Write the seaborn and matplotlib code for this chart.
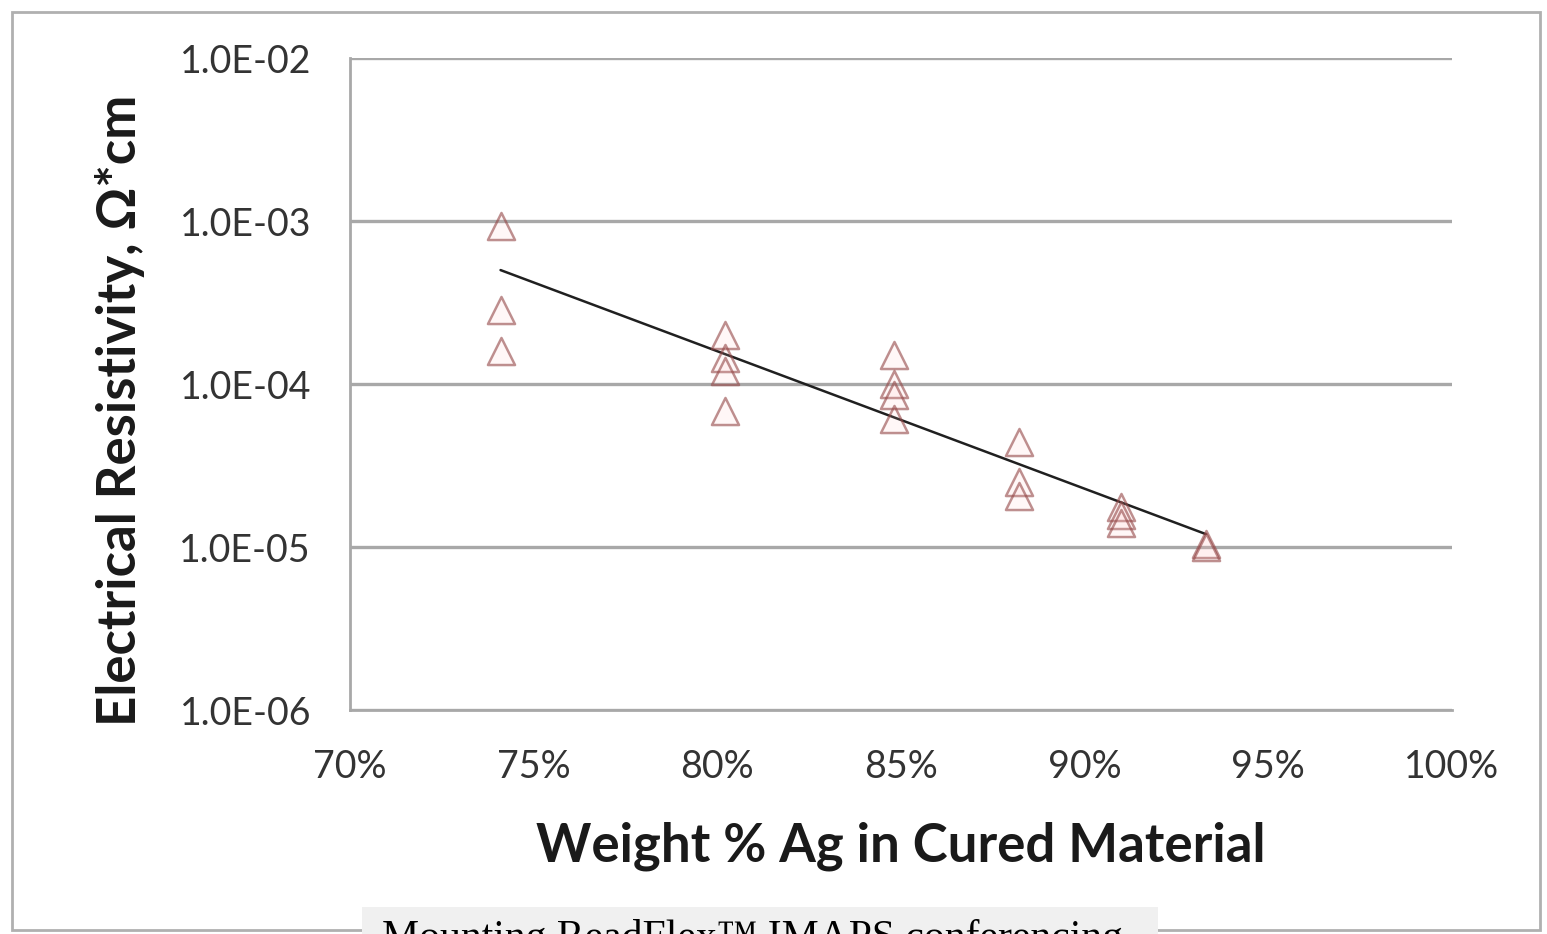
import numpy as np
import pandas as pd
import matplotlib.pyplot as plt
import matplotlib.ticker as mticker
from matplotlib.patches import Rectangle
import seaborn as sns

# Data (weight % Ag, resistivity in ohm*cm)
ag_pct = [74.1, 74.1, 74.1,
          80.2, 80.2, 80.2, 80.2,
          84.8, 84.8, 84.8, 84.8,
          88.2, 88.2, 88.2,
          91.0, 91.0, 91.0,
          93.3, 93.3]
resistivity = [9.3e-4, 2.85e-4, 1.6e-4,
               2.0e-4, 1.45e-4, 1.2e-4, 6.8e-5,
               1.5e-4, 1.0e-4, 8.6e-5, 6.1e-5,
               4.4e-5, 2.5e-5, 2.05e-5,
               1.75e-5, 1.57e-5, 1.4e-5,
               1.05e-5, 1.0e-5]

# exponential trendline as drawn in the chart
trend_ag = [74.1, 93.3]
trend_rho = [5.0e-4, 1.2e-5]

x_ticks = [70, 75, 80, 85, 90, 95, 100]
y_ticks = [1e-6, 1e-5, 1e-4, 1e-3, 1e-2]
y_labels = ["1.0E-06", "1.0E-05", "1.0E-04", "1.0E-03", "1.0E-02"]

df = pd.DataFrame({"ag": ag_pct, "rho": resistivity})
trend = pd.DataFrame({"ag": trend_ag, "rho": trend_rho})

sns.set_style("white")
plt.rcParams["font.family"] = ["Lato", "DejaVu Sans"]

fig = plt.figure(figsize=(15.47, 9.34), dpi=100)
ax = fig.add_axes([0.2262, 0.2398, 0.7124, 0.6981])

sns.lineplot(data=trend, x="ag", y="rho", ax=ax, color="#202020", linewidth=1.8)
sns.scatterplot(data=df, x="ag", y="rho", ax=ax, marker="^", s=380,
                facecolor=(1.0, 0.75, 0.75, 0.12),
                edgecolor=(0.58, 0.28, 0.28, 0.6), linewidth=1.8, zorder=3)

ax.set_yscale("log")
ax.set_xlim(70, 100)
ax.set_ylim(1e-6, 1e-2)
ax.set_xticks(x_ticks)
ax.xaxis.set_major_formatter(mticker.FuncFormatter(lambda v, p: f"{v:.0f}%"))
ax.set_yticks(y_ticks)
ax.set_yticklabels(y_labels)
ax.yaxis.set_minor_locator(mticker.NullLocator())

ax.yaxis.grid(True, color="#a8a8a8", linewidth=2.4)
ax.set_axisbelow(True)
for s in ["top", "right"]:
    ax.spines[s].set_visible(False)
for s in ["left", "bottom"]:
    ax.spines[s].set_color("#a8a8a8")
    ax.spines[s].set_linewidth(2.0)

ax.tick_params(axis="both", labelsize=27, colors="#a8a8a8", labelcolor="#333333",
               length=10, width=1.8, direction="out")
ax.tick_params(axis="x", pad=18)
ax.tick_params(axis="y", pad=18)

ax.set_xlabel("Weight % Ag in Cured Material", fontsize=38, fontweight="bold",
              color="#1a1a1a", labelpad=26)
ax.set_ylabel("Electrical Resistivity, Ω*cm", fontsize=38, fontweight="bold",
              color="#1a1a1a")
ax.yaxis.set_label_coords(-0.186, 0.46)

# outer frame of the picture
fig.patches.append(Rectangle((12 / 1547, 4 / 934), 1528 / 1547, 918 / 934,
                             transform=fig.transFigure, fill=False,
                             edgecolor="#b0b0b0", linewidth=2))
# cut-off caption box at the bottom
fig.patches.append(Rectangle((362 / 1547, -0.01), 796 / 1547, 36 / 934,
                             transform=fig.transFigure, facecolor="#f0f0f0",
                             edgecolor="none", zorder=5))
fig.text(382 / 1547, -24 / 934, "Mounting ReadFlex™ IMAPS conferencing",
         fontsize=30, family=["Liberation Serif", "DejaVu Serif"],
         color="black", va="bottom", zorder=6)

fig.savefig("out.png", dpi=100)
